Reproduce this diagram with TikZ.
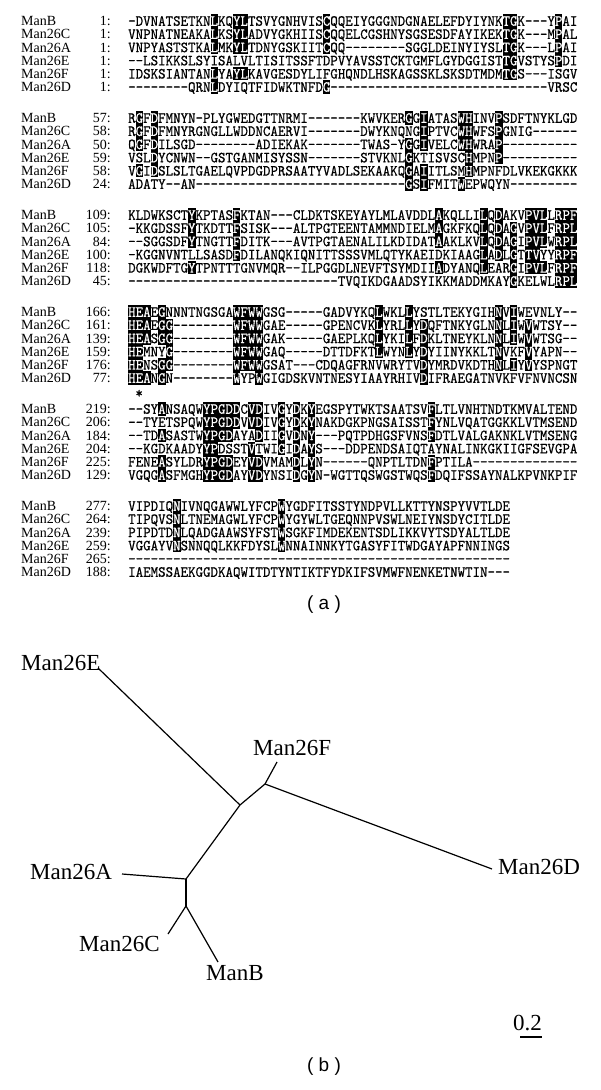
\documentclass[tikz,border=0pt]{standalone}
\usepackage{fontspec}
\setmainfont{Liberation Serif}
\setmonofont{lmmono10-regular.otf}[FakeStretch=0.92,FakeBold=0.5]
\newfontfamily\capfont{Liberation Sans}
\def\seqx{128}
\newcommand\alhl[1]{\makebox[0pt][l]{\rule[-1.85pt]{\fontcharwd\font`\M}{13.2pt}}\textcolor{white}{#1}}
\ExplSyntaxOn
\int_new:N \l_al_col_int
\clist_new:N \l_al_hl_clist
\tl_new:N \l_al_cur_tl
\NewDocumentCommand\alseq{mm}{
  \clist_set:Nn \l_al_hl_clist {#1}
  \int_zero:N \l_al_col_int
  \tl_map_inline:nn {#2}{
    \int_incr:N \l_al_col_int
    \tl_set:Nx \l_al_cur_tl {\int_use:N \l_al_col_int}
    \clist_if_in:NVTF \l_al_hl_clist \l_al_cur_tl {\alhl{##1}}{##1}
  }
}
\ExplSyntaxOff
\tikzset{
  lab/.style={anchor=west, inner sep=0pt, font=\fontsize{14}{14}\selectfont, text height=9.3pt, text depth=0pt},
  num/.style={anchor=east, inner sep=0pt, font=\fontsize{14}{14}\selectfont, text height=9.3pt, text depth=0pt},
  seqtxt/.style={anchor=west, inner sep=0pt, font=\ttfamily\fontsize{15.5}{15.5}\selectfont, text height=9.5pt, text depth=0pt},
  tlab/.style={anchor=west, inner sep=0pt, font=\fontsize{23}{23}\selectfont},
  branch/.style={line width=1.2pt},
  panelcap/.style={inner sep=0pt, font=\capfont\fontsize{19}{19}\selectfont}
}
\newcommand\alrow[6]{%
  \node[lab] (L#1) at (21,#2) {#3};
  \node[num] (N#1) at (111,#2) {#4:};
  \node[seqtxt] (S#1) at (\seqx,#2) {\alseq{#6}{#5}};
}
\newcommand\plrow[5]{%
  \node[lab] (L#1) at (21,#2) {#3};
  \node[num] (N#1) at (111,#2) {#4:};
  \node[seqtxt] (S#1) at (\seqx,#2) {#5};
}
\begin{document}
\begin{tikzpicture}[x=1pt,y=-1pt]
\fill[white] (0,0) rectangle (600,1090);
\useasboundingbox (0,0) rectangle (600,1090);
% ---------- block 1
\alrow{a1}{21}{ManB}{1}{-DVNATSETKNLKQYLTSVYGNHVISCQQEIYGGGNDGNAELEFDYIYNKTGK---YPAI}{12,15,16,27,51,52,58}
\alrow{a2}{34.2}{Man26C}{1}{VNPNATNEAKALKSYLADVYGKHIISCQQELCGSHNYSGSESDFAYIKEKTGK---MPAL}{12,15,16,27,51,52,58}
\alrow{a3}{47.4}{Man26A}{1}{VNPYASTSTKALMKYLTDNYGSKIITCQQ--------SGGLDEINYIYSLTGK---LPAI}{12,15,16,27,51,52,58}
\alrow{a4}{60.6}{Man26E}{1}{--LSIKKSLSYISALVLTISITSSFTDPVYAVSSTCKTGMFLGYDGGISTTGVSTYSPDI}{51,52,58}
\alrow{a5}{73.8}{Man26F}{1}{IDSKSIANTANLYAYLKAVGESDYLIFGHQNDLHSKAGSSKLSKSDTMDMTGS---ISGV}{12,15,16,51,52}
\alrow{a6}{87}{Man26D}{1}{--------QRNLDYIQTFIDWKTNFDG-----------------------------VRSC}{12,27}
% ---------- block 2
\alrow{b1}{118}{ManB}{57}{RGFDFMNYN-PLYGWEDGTTNRMI-------KWVKERGGIATASWHINVPSDFTNYKLGD}{2,4,38,40,45,46,50}
\alrow{b2}{131.2}{Man26C}{58}{RGFDFMNYRGNGLLWDDNCAERVI-------DWYKNQNGIPTVCWHWFSPGNIG------}{2,4,40,45,46,50}
\alrow{b3}{144.4}{Man26A}{50}{QGFDILSGD--------ADIEKAK-------TWAS-YGGIVELCWHWRAP----------}{2,4,38,40,45,46,50}
\alrow{b4}{157.6}{Man26E}{59}{VSLDYCNWN--GSTGANMISYSSN-------STVKNLGKTISVSCHMPNP----------}{4,38,46,50}
\alrow{b5}{170.8}{Man26F}{58}{VGIDSLSLTGAELQVPDGDPRSAATYVADLSEKAAKQGAIITLSMHMPNFDLVKEKGKKK}{2,4,38,40,46}
\alrow{b6}{184}{Man26D}{24}{ADATY--AN----------------------------GSIFMITWEPWQYN---------}{38,40,45}
% ---------- block 3
\alrow{c1}{215}{ManB}{109}{KLDWKSCTYKPTASFKTAN---CLDKTSKEYAYLMLAVDDLAKQLLILQDAKVPVLLRPF}{9,15,42,48,50,54,55,56,58,59,60}
\alrow{c2}{228.2}{Man26C}{105}{-KKGDSSFYTKDTTFSISK---ALTPGTEENTAMMNDIELMAGKFKQLQDAGVPVLFRPL}{9,15,42,48,50,52,54,55,56,58,59,60}
\alrow{c3}{241.4}{Man26A}{84}{--SGGSDFYTNGTTFDITK---AVTPGTAENALILKDIDATAAKLKVLQDAGIPVLWRPL}{9,15,42,48,50,52,54,55,56,58,59,60}
\alrow{c4}{254.6}{Man26E}{100}{-KGGNVNTLLSASDFDILANQKIQNITTSSSVMLQTYKAEIDKIAAGLADLGTTVYYRPF}{15,48,50,52,54,55,58,59,60}
\alrow{c5}{267.8}{Man26F}{118}{DGKWDFTGYTPNTTTGNVMQR--ILPGGDLNEVFTSYMDIIADYANQLEARGIPVLFRPF}{9,42,48,52,54,55,56,58,59,60}
\alrow{c6}{281}{Man26D}{45}{----------------------------TVQIKDGAADSYIKKMADDMKAYGKELWLRPL}{52,58,59,60}
% ---------- block 4
\alrow{d1}{312}{ManB}{166}{HEAEGNNNTNGSGAWFWWGSG-----GADVYKQLWKLLYSTLTEKYGIHNVIWEVNLY--}{1,2,3,5,15,16,17,18,34,38,50,52}
\alrow{d2}{325.2}{Man26C}{161}{HEAEGG--------WFWWGAE-----GPENCVKLYRLLYDQFTNKYGLNNLIWVWTSY--}{1,2,3,5,6,15,16,17,18,34,38,40,50,52,54}
\alrow{d3}{338.4}{Man26A}{139}{HEASGG--------WFWWGAK-----GAEPLKQLYKILFDKLTNEYKLNNLIWVWTSG--}{1,2,3,5,6,15,16,17,18,34,38,40,50,52,54}
\alrow{d4}{351.6}{Man26E}{159}{HEMNYG--------WFWWGAQ-----DTTDFKTLWYNLYDYIINYKKLTNVKFVYAPN--}{1,2,6,15,16,17,18,34,38,40,50,54}
\alrow{d5}{364.8}{Man26F}{176}{HENSGG--------WFWWGSAT---CDQAGFRNVWRYTVDYMRDVKDTHNLIYVYSPNGT}{1,2,5,6,15,16,17,18,40,50,52,54}
\alrow{d6}{378}{Man26D}{77}{HEANGN--------WYPWGIGDSKVNTNESYIAAYRHIVDIFRAEGATNVKFVFNVNCSN}{1,2,3,5,15,18,40}
\node[inner sep=0pt, anchor=base, font=\ttfamily\fontsize{15.5}{15.5}\selectfont] (star) at (139.2,398) {*};
% ---------- block 5
\alrow{e1}{409}{ManB}{219}{--SYANSAQWYPGDDCVDIVGYDKYEGSPYTWKTSAATSVFLTLVNHTNDTKMVALTEND}{5,11,12,13,14,15,17,18,21,23,25,41}
\alrow{e2}{422.2}{Man26C}{206}{--TYETSPQWYPGDDVVDIVGYDKYNAKDGKPNGSAISSTFYNLVQATGGKKLVTMSEND}{11,12,13,14,15,17,18,21,23,25,41}
\alrow{e3}{435.4}{Man26A}{184}{--TDASASTWYPGDAYADIIGVDNY---PQTPDHGSFVNSFDTLVALGAKNKLVTMSENG}{5,11,12,13,14,18,21,23,25,41}
\alrow{e4}{448.6}{Man26E}{204}{--KGDKAADYYPDSSTVTWIGIDAYS---DDPENDSAIQTAYNALINKGKIIGFSEVGPA}{11,12,17,21,23,25}
\alrow{e5}{461.8}{Man26F}{225}{FENEASYLDRYPGDEYVDVMAMDLYN------QNPTLTDNFPTILA--------------}{5,11,12,13,14,17,18,23,25,41}
\alrow{e6}{475}{Man26D}{129}{VGQGASFMGHYPGDAYVDYNSIDGYN-WGTTQSWGSTWQSFDQIFSSAYNALKPVNKPIF}{5,11,12,13,14,17,18,23,25,41}
% ---------- block 6
\alrow{f1}{506}{ManB}{277}{VIPDIQNIVNQGAWWLYFCPWYGDFITSSTYNDPVLLKTTYNSPYVVTLDE}{7,21}
\alrow{f2}{519.2}{Man26C}{264}{TIPQVSNLTNEMAGWLYFCPWYGYWLTGEQNNPVSWLNEIYNSDYCITLDE}{7,21}
\alrow{f3}{532.4}{Man26A}{239}{PIPDTDNLQADGAAWSYFSTWSGKFIMDEKENTSDLIKKVYTSDYALTLDE}{7,21}
\alrow{f4}{545.6}{Man26E}{259}{VGGAYVNSNNQQLKKFDYSLWNNAINNKYTGASYFITWDGAYAPFNNINGS}{7,21}
\plrow{f5}{558.8}{Man26F}{265}{---------------------------------------------------}
\plrow{f6}{572}{Man26D}{188}{IAEMSSAEKGGDKAQWITDTYNTIKTFYDKIFSVMWFNENKETNWTIN---}
\node[panelcap] (capA) at (324,605) {( a )};
% ---------- tree
\coordinate (E) at (98,668);
\coordinate (J1) at (240,805);
\coordinate (J2) at (265,784);
\coordinate (F) at (277,762);
\coordinate (D) at (492,869);
\coordinate (J3) at (186,879);
\coordinate (A) at (122,874);
\coordinate (J4) at (186,906);
\coordinate (C) at (168,934);
\coordinate (B) at (218,962);
\draw[branch] (E) -- (J1);
\draw[branch] (J1) -- (J2);
\draw[branch] (J2) -- (F);
\draw[branch] (J2) -- (D);
\draw[branch] (J1) -- (J3);
\draw[branch] (J3) -- (A);
\draw[branch] (J3) -- (J4);
\draw[branch] (J4) -- (C);
\draw[branch] (J4) -- (B);
\node[tlab] (tE) at (21,663) {Man26E};
\node[tlab] (tF) at (253,748) {Man26F};
\node[tlab] (tD) at (498,867) {Man26D};
\node[tlab] (tA) at (30,872) {Man26A};
\node[tlab] (tC) at (79,944) {Man26C};
\node[tlab] (tB) at (206,973) {ManB};
\node[tlab,anchor=center] (sb) at (527.5,1023) {0.2};
\coordinate (sbL) at (520,1037);
\coordinate (sbR) at (542,1037);
\draw[line width=1.2pt] (sbL) -- (sbR);
\node[panelcap] (capB) at (324,1067) {( b )};
\end{tikzpicture}
\end{document}
